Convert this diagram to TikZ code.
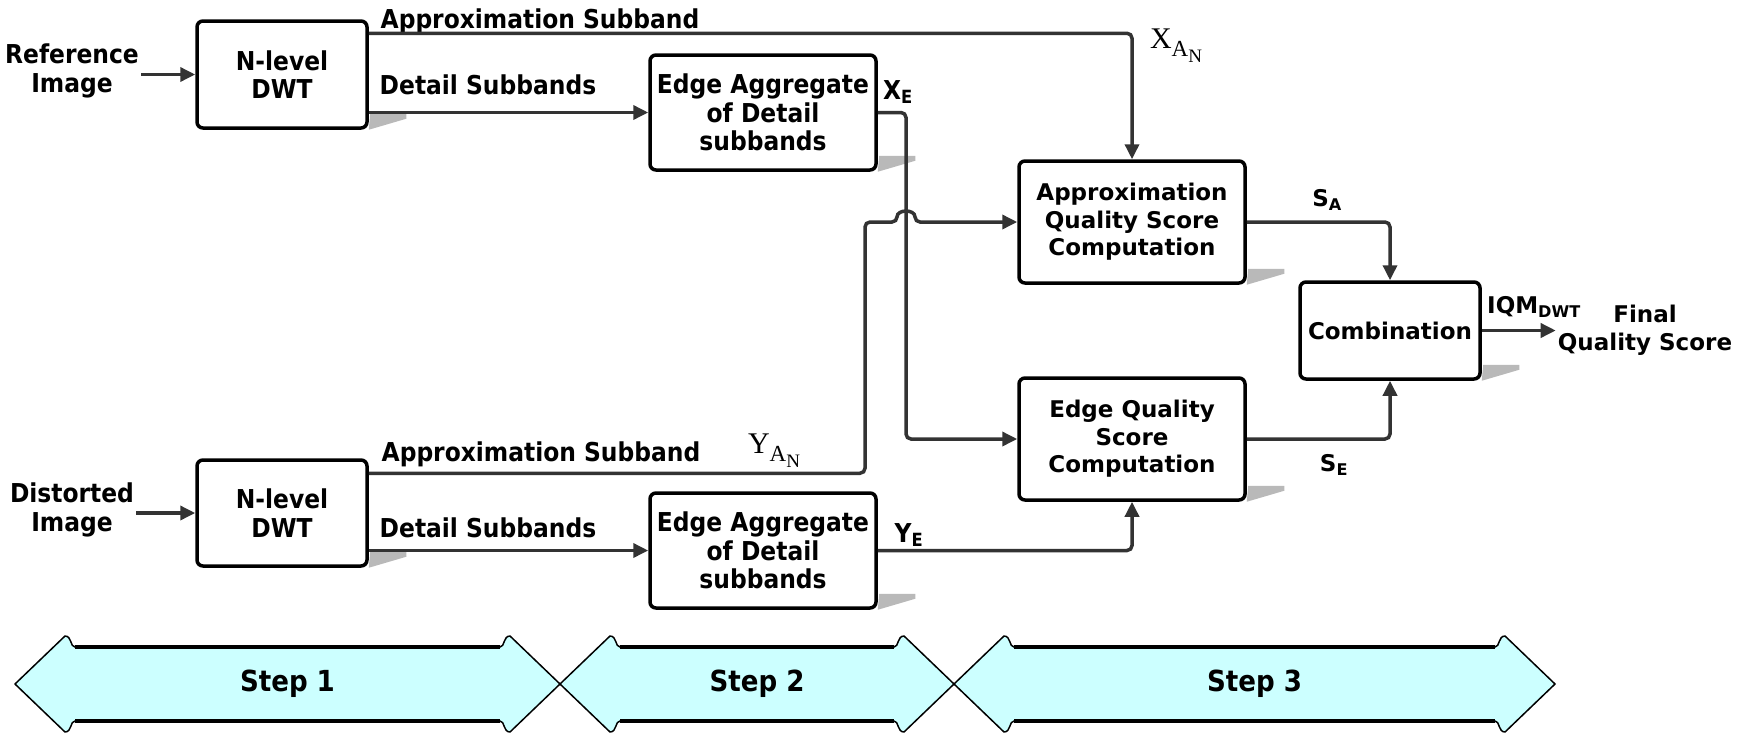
\documentclass[tikz,border=0pt]{standalone}
\usepackage{fontspec}
\setmainfont{DejaVu Sans}
\newfontfamily\narrowfont{DejaVu Sans Condensed}
\newfontfamily\timesfont{Liberation Serif}
\usetikzlibrary{arrows.meta,math}

\definecolor{stepcyan}{HTML}{CCFFFF}
\definecolor{wiregray}{HTML}{333333}

% subscripted serif symbol, e.g. X_{A_N}
\newcommand{\anlbl}[1]{\timesfont\fontsize{30}{30}\selectfont #1\raisebox{-8pt}{\fontsize{23}{23}\selectfont A\raisebox{-6pt}{\fontsize{19}{19}\selectfont N}}}
% grey drop shadow of a block
\newcommand{\blkshadow}[1]{\fill[gray!55] ([xshift=1.5pt,yshift=16pt]#1.south east) -- ++(36,0) -- ++(0,5) -- (#1.south east) -- cycle;}

\tikzset{
  narrow/.style={font=\narrowfont\bfseries\fontsize{26}{28.5}\selectfont},
  wide/.style={font=\bfseries\fontsize{23}{27.5}\selectfont},
  stepfont/.style={font=\narrowfont\bfseries\fontsize{29}{30}\selectfont},
  blk/.style={draw=black, line width=3.5pt, rounded corners=6pt, fill=white, align=center, inner sep=2pt},
  lbl/.style={inner sep=2pt, align=center},
  wire/.style={draw=wiregray, line width=3.5pt, rounded corners=5pt},
  conn/.style={wire, -{Triangle[length=15pt,width=14pt]}},
}

\begin{document}
\begin{tikzpicture}[x=1pt, y=-1pt]
  \useasboundingbox (0,0) rectangle (1739,734);

  % inputs
  \node[lbl, narrow] (refimg) at (72,71) {Reference\\Image};
  \node[lbl, narrow] (distimg) at (72,510) {Distorted\\Image};

  % step 1 blocks
  \node[blk, narrow, minimum width=170pt, minimum height=107pt] (refdwt) at (282,74.5) {N-level\\DWT};
  \node[blk, narrow, minimum width=170pt, minimum height=106pt] (distdwt) at (282,513) {N-level\\DWT};

  % step 2 blocks
  \node[blk, narrow, minimum width=226pt, minimum height=115pt] (ea1) at (763,112.5) {Edge Aggregate\\of Detail\\subbands};
  \node[blk, narrow, minimum width=226pt, minimum height=115pt] (ea2) at (763,550.5) {Edge Aggregate\\of Detail\\subbands};

  % step 3 blocks
  \node[blk, wide, minimum width=226pt, minimum height=122pt] (aq) at (1132,222) {Approximation\\Quality Score\\Computation};
  \node[blk, wide, minimum width=226pt, minimum height=122pt] (eq) at (1132,439) {Edge Quality\\Score\\Computation};
  \node[blk, wide, minimum width=180pt, minimum height=97pt] (comb) at (1390,330.5) {Combination};
  \node[lbl, wide] (final) at (1645,330) {Final\\Quality Score};

  \foreach \b in {refdwt, distdwt, ea1, ea2, aq, eq, comb} {\blkshadow{\b}}

  % labels on the wires
  \node[lbl, narrow] (apx1) at (540,21) {Approximation Subband};
  \node[lbl, narrow] (det1) at (488,85) {Detail Subbands};
  \node[lbl, narrow] (xe) at (898,92) {X\textsubscript{E}};
  \node[lbl] (xan) at (1176,46) {\anlbl{X}};
  \node[lbl, narrow] (apx2) at (541,454) {Approximation Subband};
  \node[lbl] (yan) at (774,451) {\anlbl{Y}};
  \node[lbl, narrow] (det2) at (488,528) {Detail Subbands};
  \node[lbl, narrow] (ye) at (909,535) {Y\textsubscript{E}};
  \node[lbl, wide] (sa) at (1327,200) {S\textsubscript{A}};
  \node[lbl, wide] (se) at (1334,465) {S\textsubscript{E}};
  \node[lbl, wide] (iqm) at (1534,307) {IQM\textsubscript{DWT}};

  % turning points
  \coordinate (xedrop) at (906,0);
  \coordinate (yanrise) at (865,0);
  \coordinate (hopl) at (897,222);
  \coordinate (hopr) at (915,222);

  % reference branch
  \draw[conn] (refimg.east |- refdwt.west) -- (refdwt.west);
  \draw[conn] ([yshift=-14pt]refdwt.north east) -| (aq.north);
  \draw[conn] (refdwt.east |- ea1.west) -- (ea1.west);
  \draw[conn] (ea1.east) -| (xedrop |- eq.west) -- (eq.west);

  % distorted branch
  \draw[conn] (distimg.east |- distdwt.west) -- (distdwt.west);
  \draw[conn] ([yshift=-15pt]distdwt.north east) -| (yanrise |- aq.west) -- (hopl)
    .. controls (897,209) and (915,209) .. (hopr) -- (aq.west);
  \draw[conn] (distdwt.east |- ea2.west) -- (ea2.west);
  \draw[conn] (ea2.east) -| (eq.south);

  % scores
  \draw[conn] (aq.east) -| (comb.north);
  \draw[conn] (eq.east) -| (comb.south);
  \draw[conn] (comb.east) -- (comb.east -| final.west);

  % step arrows
  \foreach \a/\b/\n in {15/560/1, 560/954/2, 954/1555/3} {
    \filldraw[fill=stepcyan, draw=black, line width=1.5pt, line join=round]
      (\a,684) -- (\a+50,636) .. controls (\a+57,636) and (\a+55,647) .. (\a+60,647)
      -- (\b-60,647) .. controls (\b-55,647) and (\b-57,636) .. (\b-50,636)
      -- (\b,684) -- (\b-50,732) .. controls (\b-57,732) and (\b-55,721) .. (\b-60,721)
      -- (\a+60,721) .. controls (\a+55,721) and (\a+57,732) .. (\a+50,732) -- cycle;
    \draw[line width=3.5pt] (\a+60,647) -- (\b-60,647) (\a+60,721) -- (\b-60,721);
    \node[stepfont] (step\n) at ({(\a+\b)/2},684) {Step \n};
  }

\end{tikzpicture}
\end{document}
